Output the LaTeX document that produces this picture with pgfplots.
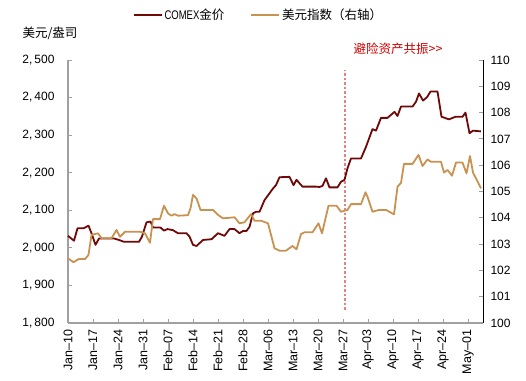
\documentclass[border=0pt]{standalone}
\usepackage{fontspec}
\setmainfont{Liberation Sans}
\newfontfamily\cjk{Noto Sans CJK SC}
\newfontfamily\narrow[FakeStretch=0.76]{Liberation Sans}
\usepackage{pgfplots}
\pgfplotsset{compat=1.18}
\definecolor{goldred}{RGB}{112,8,8}
\definecolor{dxy}{RGB}{200,146,80}
\definecolor{annot}{RGB}{208,0,0}
\definecolor{vline}{RGB}{228,130,130}
\definecolor{axgray}{RGB}{160,160,160}

\pgfplotstableread{
x y
0.0 2032
1.2 2019
1.9 2052
3.1 2052
4.1 2059
4.7 2039
5.5 2008
6.2 2025
9.2 2025
10.2 2021
11.2 2016
14.2 2016
14.8 2030
15.7 2068
16.5 2070
17.0 2054
18.5 2054
19.2 2046
19.9 2050
21.0 2047
22.0 2039
23.7 2039
24.3 2030
25.0 2008
25.7 2005
27.0 2021
28.7 2023
30.0 2039
31.3 2032
32.3 2050
33.3 2050
34.3 2039
35.0 2045
35.7 2045
36.3 2056
37.0 2092
37.6 2096
38.3 2096
39.3 2127
41.0 2158
41.6 2167
42.3 2188
44.3 2189
45.1 2167
45.7 2181
46.9 2163
49.6 2163
50.3 2162
50.9 2165
51.6 2185
52.3 2161
53.9 2161
54.6 2176
55.3 2181
55.9 2212
56.6 2238
58.6 2238
59.6 2269
60.9 2316
61.6 2312
62.6 2346
63.9 2346
65.3 2362
65.9 2351
66.6 2376
68.9 2376
69.6 2389
70.2 2411
71.0 2392
71.8 2401
72.5 2416
73.9 2416
74.7 2349
76.2 2342
77.5 2349
78.9 2349
79.5 2360
80.3 2305
81.0 2312
82.6 2310
}\goldtable

\pgfplotstableread{
x y
0.0 102.46
1.1 102.31
2.1 102.43
3.4 102.43
4.1 102.59
4.7 103.35
6.0 103.41
6.7 103.22
8.7 103.22
9.7 103.54
10.4 103.28
11.4 103.47
14.4 103.47
15.4 103.41
16.4 103.05
17.0 103.95
18.4 103.95
19.2 104.46
20.0 104.17
20.7 104.08
21.3 104.14
22.0 104.08
24.0 104.10
24.5 104.36
25.0 104.87
25.7 104.74
26.5 104.30
29.0 104.30
30.0 104.11
31.0 103.98
33.3 104.02
34.3 103.79
35.3 103.83
36.6 104.14
37.3 103.89
38.6 103.89
40.0 103.79
41.3 102.84
42.3 102.75
43.6 102.75
44.9 102.93
45.7 102.80
46.6 103.38
47.3 103.45
48.9 103.45
50.1 103.79
50.8 103.41
52.1 104.46
53.7 104.46
54.6 104.23
55.9 104.30
56.6 104.52
58.6 104.52
59.5 104.97
59.9 104.80
60.9 104.23
62.2 104.30
63.6 104.30
65.2 104.13
65.9 105.18
66.6 105.33
67.2 106.05
68.9 106.05
70.1 106.39
70.9 105.97
71.9 106.22
72.6 106.13
74.6 106.13
75.2 105.72
75.9 105.82
76.8 105.60
77.6 106.10
78.9 106.10
79.7 105.69
80.4 106.35
81.0 105.72
82.6 105.12
}\dxytable

\begin{document}
\begin{tikzpicture}[x=1pt,y=1pt]
\useasboundingbox (0,0) rectangle (526,380);
\begin{axis}[
  at={(68pt,57pt)}, anchor=south west,
  scale only axis, width=415pt, height=263pt,
  xmin=0, xmax=83, ymin=1800, ymax=2500,
  axis x line*=bottom, axis y line*=left,
  axis line style={draw=axgray, line width=1.2pt, -},
  tick style={draw=axgray, line width=0.8pt},
  tick align=inside, major tick length=4pt,
  ytick={1800,1900,...,2500},
  xtick={0,5,...,80},
  xticklabels={Jan--10,Jan--17,Jan--24,Jan--31,Feb--07,Feb--14,Feb--21,Feb--28,Mar--06,Mar--13,Mar--20,Mar--27,Apr--03,Apr--10,Apr--17,Apr--24,May--01},
  x tick label style={rotate=90, anchor=east, font=\fontsize{12.5}{14}\selectfont},
  xticklabel shift={3pt},
  y tick label style={font=\fontsize{12}{14}\selectfont},
  yticklabel shift={10pt},
  /pgf/number format/assume math mode=true,
  /pgf/number format/1000 sep={,\,},
  clip=false,
]
\addplot[vline, line width=1.1pt, dash pattern=on 2.5pt off 2pt] coordinates {(55.4,1835) (55.4,2473)};
\addplot[goldred, line width=1.8pt, line join=round] table[x=x,y=y] {\goldtable};
\end{axis}
\begin{axis}[
  at={(68pt,57pt)}, anchor=south west,
  scale only axis, width=415pt, height=263pt,
  xmin=0, xmax=83, ymin=100, ymax=110,
  axis x line=none, axis y line*=right,
  axis line style={draw=black, line width=0.8pt, -},
  tick style={draw=axgray, line width=0.8pt},
  tick align=inside, major tick length=4pt,
  ytick={100,101,...,110},
  y tick label style={font=\fontsize{12}{14}\selectfont},
  yticklabel shift={4pt},
  /pgf/number format/assume math mode=true,
  clip=false,
  legend style={at={(0.459,1.171)}, anchor=center, draw=none, fill=none,
    font=\fontsize{12.5}{14}\selectfont, inner sep=0pt,
    /tikz/every even column/.append style={column sep=24pt}},
  legend columns=2,
  legend image code/.code={\draw[#1] (0pt,0pt) -- (28pt,0pt);},
]
\addlegendimage{goldred, line width=1.8pt}
\addlegendentry{{\narrow COMEX}{\cjk 金价}}
\addplot[dxy, line width=1.8pt, line join=round] table[x=x,y=y] {\dxytable};
\addlegendentry{{\cjk 美元指数（右轴）}}
\end{axis}
\node[font=\cjk\fontsize{12.5}{14}\selectfont] at (50,347) {美元/盎司};
\node[font=\cjk\fontsize{12.5}{14}\selectfont, text=annot] at (398,331) {避险资产共振>>};
\end{tikzpicture}
\end{document}
